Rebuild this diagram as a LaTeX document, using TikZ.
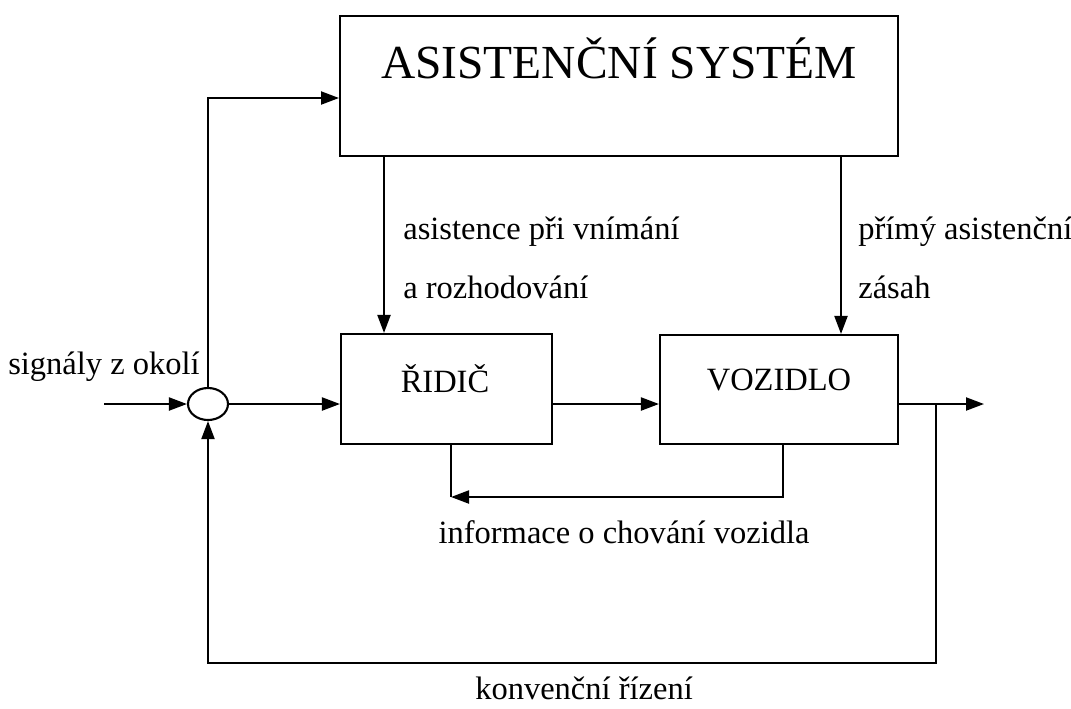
\documentclass[tikz,border=0pt]{standalone}
\usepackage{fontspec}
\setmainfont{Liberation Serif}
\usetikzlibrary{arrows.meta,shapes.geometric}
\begin{document}
\begin{tikzpicture}[x=0.02cm,y=-0.02cm,
  box/.style={draw,line width=1.2pt,rectangle,inner sep=0},
  conn/.style={line width=1.2pt},
  arr/.style={conn,-{Triangle[length=0.36cm,width=0.26cm]}},
  lbl/.style={font=\fontsize{18.5}{22}\selectfont,inner sep=0},
]
\useasboundingbox (0,0) rectangle (1071,708);
% blocks
\node[box,minimum width=11.16cm,minimum height=2.8cm] (asys) at (619,86) {};
\node[font=\fontsize{27}{32}\selectfont,inner sep=0] (asyst) at (619,58) {ASISTENČNÍ SYSTÉM};
\node[box,minimum width=4.22cm,minimum height=2.2cm] (drv) at (446.5,389) {};
\node[lbl] (drvt) at (445,379) {ŘIDIČ};
\node[box,minimum width=4.76cm,minimum height=2.18cm] (veh) at (779,389.5) {};
\node[lbl] (veht) at (779,380) {VOZIDLO};
\node[draw,ellipse,line width=1.2pt,minimum width=0.8cm,minimum height=0.64cm,inner sep=0] (sum) at (208,404) {};
% helper coordinates
\coordinate (in) at (104,404);
\coordinate (out) at (984,404);
\coordinate (tap) at (936,404);
\coordinate (ob) at (208,663);
\coordinate (y98) at (0,98);
\coordinate (xA) at (384,0);
\coordinate (xB) at (841,0);
\coordinate (fbL) at (451,497);
\coordinate (fbR) at (783,497);
% connectors
\draw[arr] (in) -- (sum.west);
\draw[arr] (sum.east) -- (sum.east -| drv.west);
\draw[arr] (drv.east |- sum) -- (veh.west |- sum);
\draw[arr] (veh.east |- sum) -- (out);
\draw[arr] (sum.north) |- (asys.west |- y98);
\draw[arr] (asys.south -| xA) -- (drv.north -| xA);
\draw[arr] (asys.south -| xB) -- (veh.north -| xB);
\draw[conn] (drv.south -| fbL) -- (fbL);
\draw[arr] (veh.south -| fbR) -- (fbR) -- (fbL);
\draw[arr] (tap) |- (ob) -- (sum.south);
% labels
\node[lbl] (l1) at (104,367) {signály z okolí};
\node[lbl,anchor=west] (l2) at (403,232) {asistence při vnímání};
\node[lbl,anchor=west] (l3) at (403,287) {a rozhodování};
\node[lbl,anchor=west] (l4) at (858,232) {přímý asistenční};
\node[lbl,anchor=west] (l5) at (858,287) {zásah};
\node[lbl] (l6) at (624,532) {informace o chování vozidla};
\node[lbl] (l7) at (584,688) {konvenční řízení};
\end{tikzpicture}
\end{document}
